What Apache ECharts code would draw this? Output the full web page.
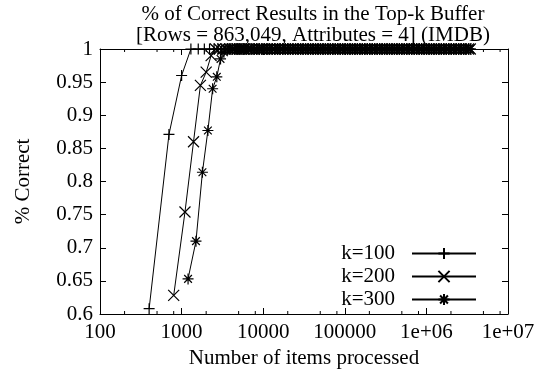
<!DOCTYPE html>
<html>
<head>
<meta charset="utf-8">
<script src="https://cdn.jsdelivr.net/npm/echarts@6/dist/echarts.min.js"></script>
<style>
html,body{margin:0;padding:0;background:#fff;}
#chart{width:547px;height:374px;}
</style>
</head>
<body>
<div id="chart"></div>
<script>
// ---- data ----
var seriesNames = ['k=100', 'k=200', 'k=300'];

// rising part of each curve (items processed, fraction correct)
var k100Items   = [400, 700, 1000, 1300, 1600, 1900, 2200, 2500, 2800, 3100, 3400, 3700];
var k100Correct = [0.608, 0.871, 0.96, 1, 1, 1, 1, 1, 1, 1, 1, 1];
var k200Items   = [800, 1100, 1400, 1700, 2000, 2300, 2600, 2900, 3200, 3500];
var k200Correct = [0.628, 0.754, 0.86, 0.945, 0.965, 0.99, 1, 1, 1, 1];
var k300Items   = [1200, 1500, 1800, 2100, 2400, 2700, 3000, 3300, 3600];
var k300Correct = [0.653, 0.71, 0.814, 0.877, 0.94, 0.958, 0.985, 0.995, 1];

// plateau: every series stays at 100% correct for these item counts
var plateauItems = [3900, 4200, 4500, 4800, 5100, 5400, 5700, 6000, 6600, 7200, 7800, 8400, 9000,
  9600, 10200, 11100, 12000, 12900, 13800, 15000, 16200, 17400, 18600, 20100, 21600, 23100,
  24900, 26700, 28800, 30900, 33000, 35400, 38100, 40800, 43800, 47100, 50400, 54000, 57900,
  62100, 66600, 71400, 76500, 81900, 87900, 94200, 100800, 108000, 115800, 124200, 133200,
  142800, 153000, 164100, 176100, 188700, 202200, 216900, 232500, 249300, 267300, 286500,
  307200, 329400, 353100, 378600, 405900, 435300, 466800, 500400, 536400, 575100, 616800,
  661200, 708900, 760200, 815100, 873900, 936900, 1004400, 1077000, 1154700, 1238100,
  1327500, 1423200, 1525800, 1635900, 1753800, 1880400, 2016000, 2161500, 2317500, 2484600,
  2664000, 2856000, 3062100, 3282900, 3452100];
var plateauCorrect = 1;

// axis ticks
var xTickValues = [100, 1000, 10000, 100000, 1000000, 10000000];
var xTickLabels = ['100', '1000', '10000', '100000', '1e+06', '1e+07'];
var xMinorTicks = [200, 500, 800, 2000, 5000, 8000, 20000, 50000, 80000,
  200000, 500000, 800000, 2000000, 5000000, 8000000];
var yMin = 0.6, yMax = 1, yStep = 0.05;

// ---- build ----
function pairs(items, vals) {
  var out = items.map(function (x, i) { return [x, vals[i]]; });
  plateauItems.forEach(function (x) { out.push([x, plateauCorrect]); });
  return out;
}

var FONT = 'Liberation Serif';
var FS = 21;
var symbols = [
  'path://M5,0 L5,10 M0,5 L10,5',
  'path://M0,0 L10,10 M10,0 L0,10',
  'path://M5,0 L5,10 M0,5 L10,5 M1.5,1.5 L8.5,8.5 M8.5,1.5 L1.5,8.5'
];
var dataSets = [
  pairs(k100Items, k100Correct),
  pairs(k200Items, k200Correct),
  pairs(k300Items, k300Correct)
];

function xLabel(v) {
  var i = xTickValues.indexOf(v);
  return i >= 0 ? xTickLabels[i] : '';
}

var axisCommon = {
  axisLine: { show: true, lineStyle: { color: '#000', width: 1 } },
  axisTick: { show: true, inside: true, length: 6, lineStyle: { color: '#000', width: 1 } },
  splitLine: { show: false }
};

var series = seriesNames.map(function (name, i) {
  return {
    name: name,
    type: 'line',
    data: dataSets[i],
    symbol: symbols[i],
    symbolSize: 11,
    showAllSymbol: true,
    lineStyle: { color: '#000', width: 1 },
    itemStyle: { color: '#000', borderColor: '#000', borderWidth: 1.2 },
    clip: false,
    z: 3
  };
});

series.push({
  type: 'custom',
  silent: true,
  data: xMinorTicks.map(function (v) { return [v]; }),
  renderItem: function (params, api) {
    var b = api.coord([api.value(0), yMin]);
    var t = api.coord([api.value(0), yMax]);
    return {
      type: 'group',
      children: [
        { type: 'line', shape: { x1: b[0], y1: b[1], x2: b[0], y2: b[1] - 3 }, style: { stroke: '#000', lineWidth: 1 } },
        { type: 'line', shape: { x1: t[0], y1: t[1], x2: t[0], y2: t[1] + 3 }, style: { stroke: '#000', lineWidth: 1 } }
      ]
    };
  },
  z: 2
});

var chart = echarts.init(document.getElementById('chart'), null, { renderer: 'canvas' });
chart.setOption({
  animation: false,
  backgroundColor: '#fff',
  textStyle: { fontFamily: FONT, color: '#000' },
  title: {
    text: '% of Correct Results in the Top-k Buffer\n[Rows = 863,049, Attributes = 4] (IMDB)',
    left: 313,
    textAlign: 'center',
    top: 4,
    padding: 0,
    textStyle: { fontFamily: FONT, fontSize: FS, fontWeight: 'normal', color: '#000', lineHeight: 21 }
  },
  grid: { left: 100, right: 39, top: 49, bottom: 56, containLabel: false },
  legend: {
    data: seriesNames,
    orient: 'vertical',
    right: 70,
    top: 243,
    padding: 0,
    itemGap: 2,
    itemWidth: 64,
    itemHeight: 14,
    align: 'right',
    textStyle: { fontFamily: FONT, fontSize: FS, color: '#000', lineHeight: 21, padding: [0, 12, 0, 0] },
    inactiveColor: '#000'
  },
  xAxis: [
    Object.assign({}, axisCommon, {
      type: 'log', logBase: 10, min: 100, max: 10000000, position: 'bottom',
      name: 'Number of items processed', nameLocation: 'middle', nameGap: 34,
      nameTextStyle: { fontFamily: FONT, fontSize: FS, color: '#000' },
      axisLabel: { show: true, margin: 8, fontFamily: FONT, fontSize: FS, color: '#000', formatter: xLabel }
    }),
    Object.assign({}, axisCommon, {
      type: 'log', logBase: 10, min: 100, max: 10000000, position: 'top',
      axisLabel: { show: false }
    })
  ],
  yAxis: [
    Object.assign({}, axisCommon, {
      type: 'value', min: yMin, max: yMax, interval: yStep, position: 'left',
      name: '% Correct', nameLocation: 'middle', nameGap: 66, nameRotate: 90,
      nameTextStyle: { fontFamily: FONT, fontSize: FS, color: '#000' },
      axisLabel: { show: true, margin: 7, fontFamily: FONT, fontSize: FS, color: '#000',
        formatter: function (v) { return String(+v.toFixed(2)); } }
    }),
    Object.assign({}, axisCommon, {
      type: 'value', min: yMin, max: yMax, interval: yStep, position: 'right',
      axisLabel: { show: false }
    })
  ],
  series: series
});
</script>
</body>
</html>
